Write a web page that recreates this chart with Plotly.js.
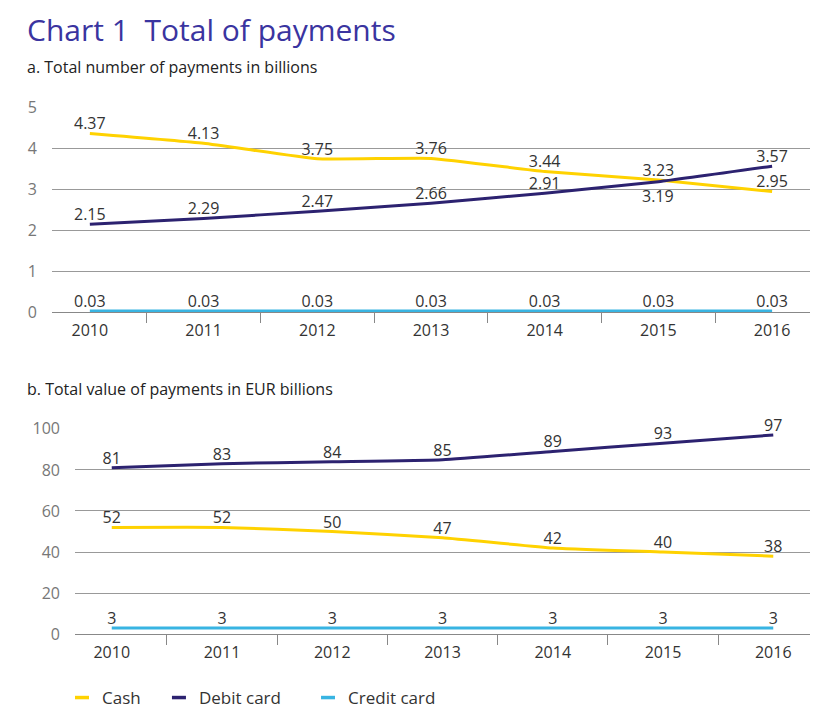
<!DOCTYPE html>
<html>
<head>
<meta charset="utf-8">
<script src="https://cdn.plot.ly/plotly-3.0.1.min.js"></script>
<style>
  html, body { margin: 0; padding: 0; background: #fff; }
  #chart { width: 838px; height: 716px; }
</style>
</head>
<body>
<div id="chart"></div>
<script>
const years = ['2010', '2011', '2012', '2013', '2014', '2015', '2016'];

// a. number of payments, billions
const cashCount = [4.37, 4.13, 3.75, 3.76, 3.44, 3.23, 2.95];
const debitCount = [2.15, 2.29, 2.47, 2.66, 2.91, 3.19, 3.57];
const creditCount = [0.03, 0.03, 0.03, 0.03, 0.03, 0.03, 0.03];

// b. value of payments, EUR billions
const cashValue = [52, 52, 50, 47, 42, 40, 38];
const debitValue = [81, 83, 84, 85, 89, 93, 97];
const creditValue = [3, 3, 3, 3, 3, 3, 3];

const CASH = '#ffd200';
const DEBIT = '#2c2270';
const CREDIT = '#38b4e2';
const FONT = 'Open Sans, sans-serif';
const nb = (n) => '\u00a0'.repeat(n);

function series(x, y, color, xa, ya, digits, skip) {
  return {
    x: x,
    y: y,
    xaxis: xa,
    yaxis: ya,
    type: 'scatter',
    mode: 'lines+text',
    line: { color: color, width: 3, shape: 'spline', smoothing: 0.4 },
    text: y.map((v, i) => (i === skip ? '' : v.toFixed(digits))),
    textposition: 'top center',
    textfont: { family: FONT, size: 16, color: '#333' },
    cliponaxis: false,
    showlegend: false,
    hoverinfo: 'skip',
  };
}

function legendItem(name, color) {
  return {
    x: [null],
    y: [null],
    type: 'scatter',
    mode: 'markers',
    name: name,
    marker: { symbol: 'line-ew-open', size: 10, color: color, line: { width: 3.5, color: color } },
  };
}

// 2015 debit label sits under the line (it crosses cash there)
const below = years.indexOf('2015');

const traces = [
  series(years, cashCount, CASH, 'x', 'y', 2),
  series(years, debitCount, DEBIT, 'x', 'y', 2, below),
  series(years, creditCount, CREDIT, 'x', 'y', 2),
  series(years, cashValue, CASH, 'x2', 'y2', 0),
  series(years, debitValue, DEBIT, 'x2', 'y2', 0),
  series(years, creditValue, CREDIT, 'x2', 'y2', 0),
  legendItem('Cash' + nb(3), CASH),
  legendItem('Debit card' + nb(5), DEBIT),
  legendItem('Credit card', CREDIT),
];

const xaxisBase = {
  type: 'category',
  showgrid: false,
  showline: true,
  linecolor: '#888',
  linewidth: 1,
  ticks: 'outside',
  tickson: 'boundaries',
  ticklen: 10,
  tickcolor: '#888',
  ticklabelstandoff: 4,
  tickfont: { family: FONT, size: 16, color: '#333' },
  fixedrange: true,
};

const yaxisBase = {
  showline: false,
  showgrid: true,
  gridcolor: '#999',
  gridwidth: 1,
  zeroline: false,
  ticks: '',
  ticklabelstandoff: 14,
  tickfont: { family: FONT, size: 16, color: '#777' },
  fixedrange: true,
};

const layout = {
  width: 838,
  height: 716,
  margin: { l: 0, r: 0, t: 0, b: 0 },
  paper_bgcolor: '#fff',
  plot_bgcolor: '#fff',
  font: { family: FONT },
  xaxis: Object.assign({}, xaxisBase, { domain: [0.062, 0.9666], anchor: 'y' }),
  yaxis: Object.assign({}, yaxisBase, { domain: [0.5628, 0.8492], range: [0, 5], dtick: 1, anchor: 'x' }),
  xaxis2: Object.assign({}, xaxisBase, { domain: [0.0895, 0.9666], anchor: 'y2' }),
  yaxis2: Object.assign({}, yaxisBase, { domain: [0.1117, 0.3994], range: [0, 100], dtick: 20, anchor: 'x2' }),
  showlegend: true,
  legend: {
    orientation: 'h',
    x: 0.074,
    y: 0.022,
    xanchor: 'left',
    yanchor: 'middle',
    font: { family: FONT, size: 17, color: '#333' },
    itemwidth: 30,
    bgcolor: 'rgba(0,0,0,0)',
  },
  annotations: [
    {
      text: 'Chart 1\u00a0\u00a0Total of payments',
      xref: 'paper', yref: 'paper', x: 0.03, y: 0.958,
      xanchor: 'left', yanchor: 'middle', showarrow: false,
      font: { family: FONT, size: 30, color: '#3a34a0' },
    },
    {
      text: 'a. Total number of payments in billions',
      xref: 'paper', yref: 'paper', x: 0.03, y: 0.9064,
      xanchor: 'left', yanchor: 'middle', showarrow: false,
      font: { family: FONT, size: 16, color: '#222' },
    },
    {
      text: 'b. Total value of payments in EUR billions',
      xref: 'paper', yref: 'paper', x: 0.03, y: 0.4553,
      xanchor: 'left', yanchor: 'middle', showarrow: false,
      font: { family: FONT, size: 16, color: '#222' },
    },
    {
      // category axis: annotation x is the category's index
      text: debitCount[below].toFixed(2),
      xref: 'x', yref: 'y', x: below, y: debitCount[below],
      xanchor: 'center', yanchor: 'top', yshift: -1, showarrow: false,
      font: { family: FONT, size: 16, color: '#333' },
    },
  ],
};

Plotly.newPlot('chart', traces, layout, { displayModeBar: false, staticPlot: true });
</script>
</body>
</html>
